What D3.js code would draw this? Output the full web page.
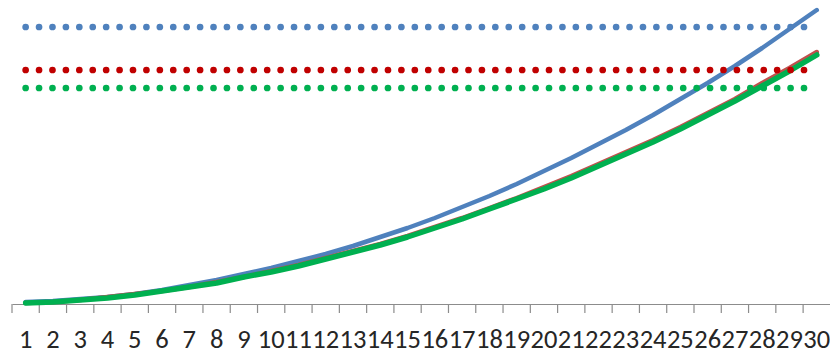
<!DOCTYPE html>
<html>
<head>
<meta charset="utf-8">
<script src="https://cdn.jsdelivr.net/npm/d3@7"></script>
<style>
  html, body { margin: 0; padding: 0; background: #fff; }
  svg { display: block; }
  .cat-axis text { font-family: Carlito, "Liberation Sans", Arial, sans-serif; font-size: 26.5px; fill: #262626; }
</style>
</head>
<body>
<svg id="chart" width="830" height="355"></svg>
<script>
// Periods along the category axis
const periods = d3.range(1, 31).map(String);

// Cumulative curves, one value per period
const blueSeries  = [2, 3, 5, 7, 10, 14, 19, 24, 30, 36, 43, 50, 58, 67, 76, 86, 97, 108, 120, 133, 146, 160, 174, 189, 205, 221, 238, 256, 275, 294];
const redSeries   = [1, 2, 4, 7, 10, 13, 17, 22, 27, 33, 39, 46, 53, 60, 68, 77, 86, 96, 106, 117, 128, 140, 152, 164, 177, 191, 205, 221, 236, 252];
const greenSeries = [1, 2, 4, 6, 9, 13, 17, 21, 27, 32, 38, 45, 52, 59, 67, 76, 85, 95, 105, 115, 126, 138, 150, 162, 175, 189, 203, 218, 233, 249];

// Constant reference levels
const blueLevel  = 277;
const redLevel   = 234;
const greenLevel = 216;

const svg = d3.select("#chart");

const x = d3.scaleBand().domain(periods).range([12, 830.4]).padding(0);
const y = d3.scaleLinear().domain([0, 300]).range([304, 4]);
const cx = d => x(d) + x.bandwidth() / 2;

// Category axis: baseline, boundary ticks, centred labels
const axisG = svg.append("g").attr("class", "cat-axis").attr("transform", `translate(0,${y(0)})`);
axisG.call(d3.axisBottom(x).tickSize(0).tickSizeOuter(0));
axisG.select(".domain").attr("stroke", "#8c8c8c").attr("stroke-width", 1.2);
axisG.selectAll(".tick text").attr("y", 44.3).attr("dy", null);

axisG.selectAll("line.bound")
  .data(periods)
  .join("line")
  .attr("class", "bound")
  .attr("x1", d => x(d)).attr("x2", d => x(d))
  .attr("y1", 0).attr("y2", 9)
  .attr("stroke", "#8c8c8c").attr("stroke-width", 1.2);

const line = d3.line().x(d => cx(d[0])).y(d => y(d[1]));

const curves = [
  { values: blueSeries,  color: "#4f81bd", width: 4.5 },
  { values: redSeries,   color: "#c0504d", width: 4.5 },
  { values: greenSeries, color: "#00b050", width: 5.5 }
];

svg.selectAll("path.curve")
  .data(curves)
  .join("path")
  .attr("class", "curve")
  .attr("fill", "none")
  .attr("stroke", d => d.color)
  .attr("stroke-width", d => d.width)
  .attr("stroke-linejoin", "round")
  .attr("stroke-linecap", "round")
  .attr("d", d => line(periods.map((p, i) => [p, d.values[i]])));

const levels = [
  { value: blueLevel,  color: "#4f81bd" },
  { value: redLevel,   color: "#c00000" },
  { value: greenLevel, color: "#00b050" }
];

svg.selectAll("path.level")
  .data(levels)
  .join("path")
  .attr("class", "level")
  .attr("fill", "none")
  .attr("stroke", d => d.color)
  .attr("stroke-width", 6.7)
  .attr("stroke-linecap", "round")
  .attr("stroke-dasharray", "0 13.42")
  .attr("d", d => line(periods.map(p => [p, d.value])));
</script>
</body>
</html>
